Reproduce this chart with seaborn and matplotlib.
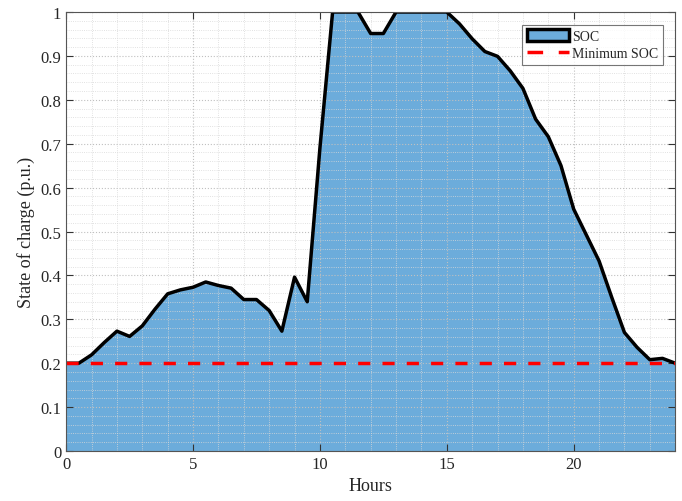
import matplotlib
matplotlib.use("Agg")
import matplotlib.pyplot as plt
import seaborn as sns
import pandas as pd
import numpy as np
from matplotlib.ticker import MultipleLocator
from matplotlib.patches import Patch
from matplotlib.lines import Line2D

# half-hourly state of charge
hours = [0, 0.5, 1, 1.5, 2, 2.5, 3, 3.5, 4, 4.5, 5, 5.5, 6, 6.5, 7, 7.5, 8, 8.5,
         9, 9.5, 10, 10.5, 11, 11.5, 12, 12.5, 13, 13.5, 14, 14.5, 15, 15.5, 16,
         16.5, 17, 17.5, 18, 18.5, 19, 19.5, 20, 20.5, 21, 21.5, 22, 22.5, 23,
         23.5, 24]
soc = [0.20, 0.20, 0.219, 0.247, 0.273, 0.261, 0.285, 0.323, 0.358, 0.367,
       0.373, 0.385, 0.377, 0.371, 0.345, 0.345, 0.320, 0.273, 0.396, 0.340,
       0.69, 1.0, 1.0, 1.0, 0.951, 0.951, 1.0, 1.0, 1.0, 1.0, 1.0, 0.973,
       0.939, 0.910, 0.899, 0.866, 0.826, 0.756, 0.716, 0.650, 0.551, 0.492,
       0.433, 0.350, 0.270, 0.236, 0.208, 0.211, 0.200]
min_soc = 0.2

df = pd.DataFrame({"Hours": hours, "SOC": soc})
fill_color = "#6cacdb"

sns.set_style("ticks")
plt.rcParams['font.family'] = ['Liberation Serif', 'DejaVu Serif']

fig = plt.figure(figsize=(6.82, 5.02), dpi=100)
ax = fig.add_axes([0.097, 0.0996, 0.893, 0.8745])

ax.fill_between(df["Hours"], df["SOC"], 0, facecolor=fill_color,
                edgecolor="none", zorder=2)
sns.lineplot(data=df, x="Hours", y="SOC", color="black", linewidth=2.5,
             ax=ax, zorder=3)
sns.lineplot(x=[0, 24], y=[min_soc, min_soc], color="red",
             linestyle=(0, (3.5, 3.5)), linewidth=2.5, ax=ax, zorder=4)

ax.set_xlim(0, 24)
ax.set_ylim(0, 1)
ax.xaxis.set_major_locator(MultipleLocator(5))
ax.xaxis.set_minor_locator(MultipleLocator(1))
ax.yaxis.set_minor_locator(MultipleLocator(0.02))
ax.set_yticks(np.arange(0, 1.01, 0.1))
ax.set_yticklabels(["0", "0.1", "0.2", "0.3", "0.4", "0.5", "0.6", "0.7",
                    "0.8", "0.9", "1"])
ax.grid(True, which="major", linestyle=":", color="#c0c0c0", linewidth=0.8)
ax.grid(True, which="minor", linestyle=":", color="#d8d8d8", linewidth=0.6)
ax.set_axisbelow(False)
ax.tick_params(which="both", direction="in", top=True, right=True,
               labelsize=12, color="#333333")
ax.tick_params(which="minor", length=0)
ax.tick_params(which="major", length=5)
for s in ax.spines.values():
    s.set_color("#555555")
    s.set_linewidth(0.8)
    s.set_zorder(5)

ax.set_xlabel("Hours", fontsize=13)
ax.set_ylabel("State of charge (p.u.)", fontsize=13)

handles = [Patch(facecolor=fill_color, edgecolor="black", linewidth=2.5),
           Line2D([0], [0], color="red", linewidth=2.5,
                  linestyle=(0, (4.5, 4.5)))]
leg = ax.legend(handles, ["SOC", "Minimum SOC"], loc="upper right",
                fontsize=10, frameon=True, fancybox=False,
                edgecolor="#555555", borderaxespad=0.9, handlelength=3.0,
                handleheight=0.9, labelspacing=0.25, borderpad=0.35,
                handletextpad=0.2)
leg.get_frame().set_linewidth(0.8)
leg.set_zorder(6)

fig.savefig("out.png", dpi=100)
